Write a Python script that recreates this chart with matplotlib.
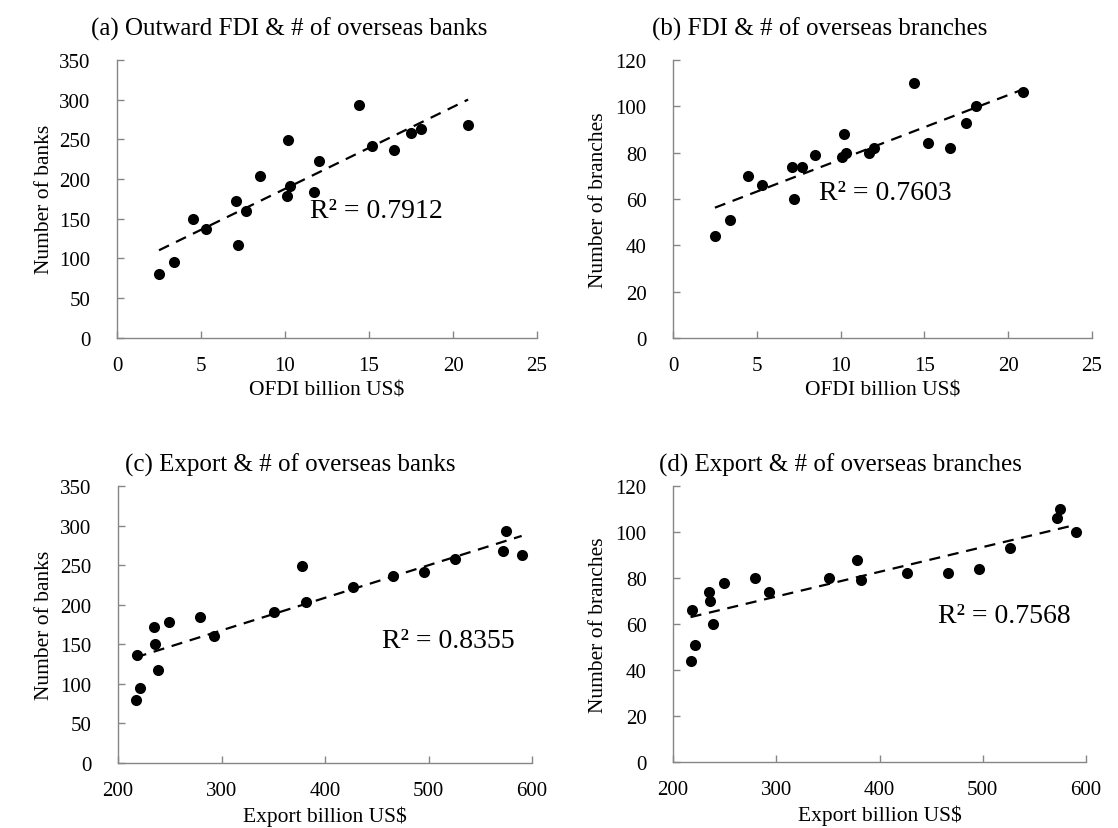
import numpy as np
import matplotlib
matplotlib.use("Agg")
import matplotlib.pyplot as plt

plt.rcParams['font.family'] = ['Liberation Serif', 'DejaVu Serif']

# Data (one entry per observation)
ofdi = [2.5, 3.4, 5.3, 7.1, 4.5, 7.2, 10.1, 11.7, 7.7, 10.3, 10.2, 8.5, 12.0, 16.5, 15.2, 17.5, 20.9, 14.4, 18.1]
export = [217, 221, 218, 235, 236, 239, 249, 279, 293, 351, 378, 382, 427, 466, 496, 526, 572, 575, 590]
banks = [80, 95, 137, 172, 150, 117, 178, 184, 160, 191, 249, 204, 222, 236, 241, 258, 268, 293, 263]
branches = [44, 51, 66, 74, 70, 60, 78, 80, 74, 80, 88, 79, 82, 82, 84, 93, 106, 110, 100]

titles = ["(a) Outward FDI & # of overseas banks", "(b) FDI & # of overseas branches",
          "(c) Export & # of overseas banks", "(d) Export & # of overseas branches"]
xlabels = ["OFDI billion US$", "OFDI billion US$", "Export billion US$", "Export billion US$"]
ylabels = ["Number of banks", "Number of branches", "Number of banks", "Number of branches"]
r2_labels = ["R² = 0.7912", "R² = 0.7603", "R² = 0.8355", "R² = 0.7568"]
xticks_fdi = [0, 5, 10, 15, 20, 25]
xticks_exp = [200, 300, 400, 500, 600]
yticks_banks = [0, 50, 100, 150, 200, 250, 300, 350]
yticks_branches = [0, 20, 40, 60, 80, 100, 120]

W, H = 1118, 829
fig = plt.figure(figsize=(W / 100, H / 100), dpi=100)

def px_axes(left, right, top, bottom):
    return fig.add_axes([left / W, (H - bottom) / H, (right - left) / W, (bottom - top) / H])

boxes = [(117, 537, 61, 338.5), (673, 1092, 61, 339), (118, 532, 487, 764), (673, 1086, 487, 763)]
xs = [ofdi, ofdi, export, export]
ys = [banks, branches, banks, branches]
xt = [xticks_fdi, xticks_fdi, xticks_exp, xticks_exp]
yt = [yticks_banks, yticks_branches, yticks_banks, yticks_branches]
title_pos = [(289, 29), (820, 29), (290, 465), (840, 465)]
ylabel_x = [54, 608, 54, 608]
r2_pos = [(376, 212), (885, 193), (448, 642), (1004, 617)]
spine_col = '#868686'

for i in range(4):
    l, r, t, b = boxes[i]
    ax = px_axes(l, r, t, b)
    x = np.array(xs[i], dtype=float)
    y = np.array(ys[i], dtype=float)
    ax.scatter(x, y, s=64, color='black', zorder=3, linewidths=0)
    k, c0 = np.polyfit(x, y, 1)
    xl = np.array([x.min(), x.max()])
    ax.plot(xl, k * xl + c0, color='black', lw=1.6, dashes=(5, 3.5), zorder=2)
    ax.set_xlim(xt[i][0], xt[i][-1])
    ax.set_ylim(yt[i][0], yt[i][-1])
    ax.set_xticks(xt[i])
    ax.set_yticks(yt[i])
    for s in ['top', 'right']:
        ax.spines[s].set_visible(False)
    for s in ['left', 'bottom']:
        ax.spines[s].set_color(spine_col)
        ax.spines[s].set_linewidth(1.0)
    ax.tick_params(axis='both', direction='in', length=5, width=1.0, color=spine_col,
                   labelsize=15, labelcolor='black')
    ax.tick_params(axis='x', pad=13)
    ax.tick_params(axis='y', pad=19)
    ax.set_xlabel(xlabels[i], fontsize=15.5, labelpad=4)
    ax.set_ylabel(ylabels[i], fontsize=15.5)
    ax.yaxis.set_label_coords((ylabel_x[i] - l) / (r - l), 0.5)
    tx, ty = title_pos[i]
    fig.text(tx / W, 1 - ty / H, titles[i], ha='center', va='center', fontsize=18)
    rx, ry = r2_pos[i]
    fig.text(rx / W, 1 - ry / H, r2_labels[i], ha='center', va='center', fontsize=20)

fig.savefig('out.png', dpi=100)
